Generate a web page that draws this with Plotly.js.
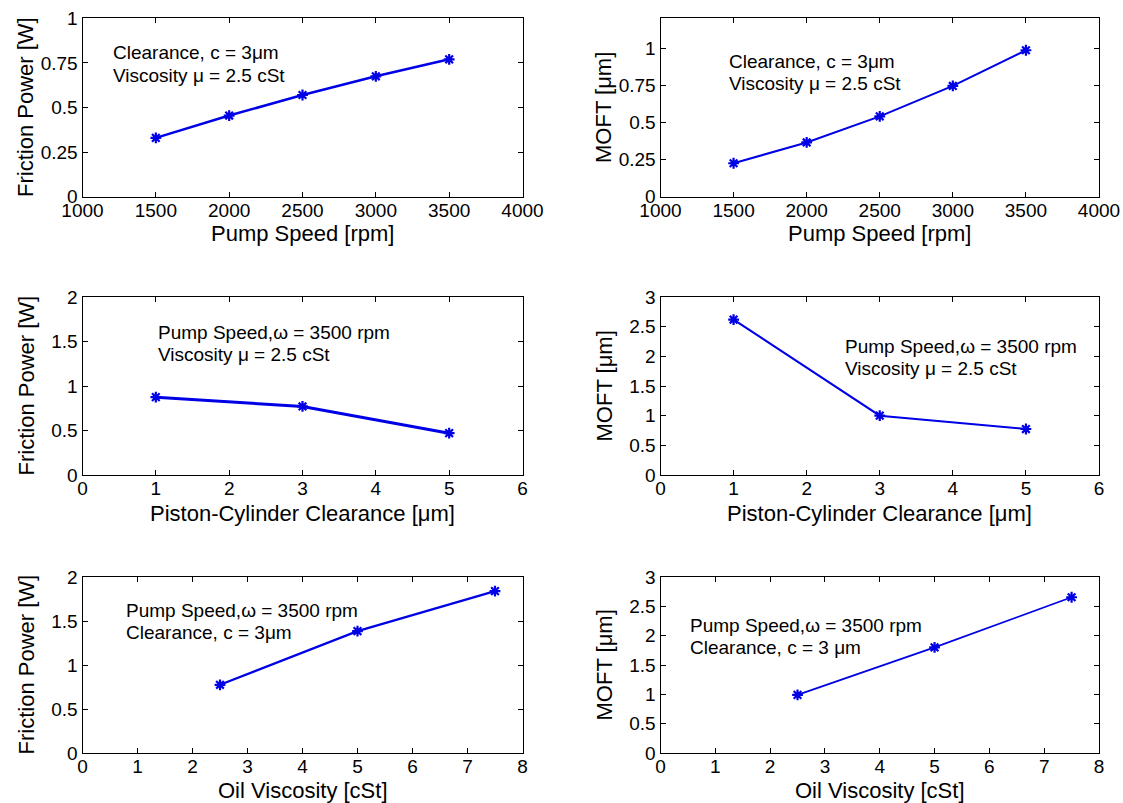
<!DOCTYPE html>
<html>
<head>
<meta charset="utf-8">
<script src="https://cdn.plot.ly/plotly-3.0.1.min.js"></script>
<style>html,body{margin:0;padding:0;background:#fff;}#chart{width:1123px;height:803px;}</style>
</head>
<body>
<div id="chart"></div>
<script>
// ---- data ----
const pumpSpeed = [1500, 2000, 2500, 3000, 3500];
const frictionVsSpeed = [0.33, 0.455, 0.57, 0.675, 0.77];
const moftVsSpeed = [0.225, 0.365, 0.54, 0.745, 0.985];

const clearance = [1, 3, 5];
const frictionVsClearance = [0.875, 0.77, 0.47];
const moftVsClearance = [2.62, 1.0, 0.775];

const viscosity = [2.5, 5, 7.5];
const frictionVsViscosity = [0.775, 1.385, 1.84];
const moftVsViscosity = [0.99, 1.8, 2.655];

// ---- tick labels ----
const speedTicks = [1000, 1500, 2000, 2500, 3000, 3500, 4000];
const clearanceTicks = [0, 1, 2, 3, 4, 5, 6];
const viscosityTicks = [0, 1, 2, 3, 4, 5, 6, 7, 8];
const quarterTicks = [0, 0.25, 0.5, 0.75, 1];
const halfTicks2 = [0, 0.5, 1, 1.5, 2];
const halfTicks3 = [0, 0.5, 1, 1.5, 2, 2.5, 3];

// ---- labels ----
const xTitles = ["Pump Speed [rpm]", "Pump Speed [rpm]",
  "Piston-Cylinder Clearance [μm]", "Piston-Cylinder Clearance [μm]",
  "Oil Viscosity [cSt]", "Oil Viscosity [cSt]"];
const yTitles = ["Friction Power [W]", "MOFT [μm]",
  "Friction Power [W]", "MOFT [μm]",
  "Friction Power [W]", "MOFT [μm]"];
const noteLines = [
  ["Clearance, c = 3μm", "Viscosity μ = 2.5 cSt"],
  ["Clearance, c = 3μm", "Viscosity μ = 2.5 cSt"],
  ["Pump Speed,ω = 3500 rpm", "Viscosity μ = 2.5 cSt"],
  ["Pump Speed,ω = 3500 rpm", "Viscosity μ = 2.5 cSt"],
  ["Pump Speed,ω = 3500 rpm", "Clearance, c = 3μm"],
  ["Pump Speed,ω = 3500 rpm", "Clearance, c = 3 μm"]
];

const FONT = 'Arial, "Liberation Sans", Helvetica, sans-serif';
const BLUE = '#0000e6';

const series = [
  {x: pumpSpeed, y: frictionVsSpeed, w: 2.5},
  {x: pumpSpeed, y: moftVsSpeed, w: 2},
  {x: clearance, y: frictionVsClearance, w: 3},
  {x: clearance, y: moftVsClearance, w: 2},
  {x: viscosity, y: frictionVsViscosity, w: 2.2},
  {x: viscosity, y: moftVsViscosity, w: 1.8}
];

const xTickSets = [speedTicks, speedTicks, clearanceTicks, clearanceTicks, viscosityTicks, viscosityTicks];
const xRanges = [[1000, 4000], [1000, 4000], [0, 6], [0, 6], [0, 8], [0, 8]];
const yTickSets = [quarterTicks, quarterTicks, halfTicks2, halfTicks3, halfTicks2, halfTicks3];
const yRanges = [[0, 1], [0, 1.2], [0, 2], [0, 3], [0, 2], [0, 3]];

// layout geometry (pixels in the 1123x803 figure)
const W = 1123, H = 803;
const colPx = [[82.5, 522.5], [660.5, 1099]];
const rowPx = [[18.3, 196.7], [297, 475], [577, 753]];
const xTitleOff = [37, 38, 37];
const noteX = [0.064, 0.151, 0.167, 0.417, 0.094, 0.062];
const noteY = [[0.806, 0.680], [0.756, 0.632], [0.801, 0.675], [0.723, 0.599], [0.808, 0.686], [0.726, 0.601]];

const traces = [];
const layout = {
  width: W, height: H,
  margin: {l: 0, r: 0, t: 0, b: 0},
  paper_bgcolor: '#ffffff', plot_bgcolor: '#ffffff',
  showlegend: false,
  font: {family: FONT, size: 19, color: '#000'},
  annotations: []
};

function fmt(v) { return String(v); }

series.forEach((s, i) => {
  const n = i + 1;
  const xa = 'x' + (n === 1 ? '' : n), ya = 'y' + (n === 1 ? '' : n);
  const col = i % 2, row = Math.floor(i / 2);
  const cx = colPx[col], ry = rowPx[row];
  traces.push({
    type: 'scatter', mode: 'lines+markers',
    x: s.x, y: s.y, xaxis: xa, yaxis: ya,
    line: {color: BLUE, width: s.w},
    marker: {symbol: 'asterisk-open', size: 9, color: BLUE, line: {color: BLUE, width: 2.2}},
    cliponaxis: false, hoverinfo: 'x+y'
  });
  const common = {
    showline: true, linecolor: '#000', linewidth: 1, mirror: 'ticks',
    ticks: 'inside', ticklen: 5, tickwidth: 1, tickcolor: '#000',
    showgrid: false, zeroline: false, fixedrange: true,
    tickfont: {family: FONT, size: 19, color: '#000'}
  };
  layout['xaxis' + (n === 1 ? '' : n)] = Object.assign({}, common, {
    anchor: ya, domain: [cx[0] / W, cx[1] / W], range: xRanges[i],
    tickmode: 'array', tickvals: xTickSets[i], ticktext: xTickSets[i].map(fmt),
    ticklabelstandoff: -4
  });
  layout['yaxis' + (n === 1 ? '' : n)] = Object.assign({}, common, {
    anchor: xa, domain: [1 - ry[1] / H, 1 - ry[0] / H], range: yRanges[i],
    tickmode: 'array', tickvals: yTickSets[i], ticktext: yTickSets[i].map(fmt)
  });
  const xdRef = xa + ' domain', ydRef = ya + ' domain';
  const pw = cx[1] - cx[0], ph = ry[1] - ry[0];
  // x-axis title
  layout.annotations.push({
    xref: xdRef, yref: ydRef, x: 0.5, y: -xTitleOff[row] / ph, xanchor: 'center', yanchor: 'middle',
    text: xTitles[i], showarrow: false, font: {family: FONT, size: 22, color: '#000'}
  });
  // y-axis title
  layout.annotations.push({
    xref: xdRef, yref: ydRef, x: -57 / pw, y: 0.5, xanchor: 'center', yanchor: 'middle',
    text: yTitles[i], textangle: -90, showarrow: false, font: {family: FONT, size: 22, color: '#000'}
  });
  // in-plot notes
  noteLines[i].forEach((t, k) => {
    layout.annotations.push({
      xref: xdRef, yref: ydRef, x: noteX[i], y: noteY[i][k], xanchor: 'left', yanchor: 'middle',
      text: t, showarrow: false, font: {family: FONT, size: 19, color: '#000'}
    });
  });
});

Plotly.newPlot('chart', traces, layout, {staticPlot: true, displayModeBar: false});
</script>
</body>
</html>
